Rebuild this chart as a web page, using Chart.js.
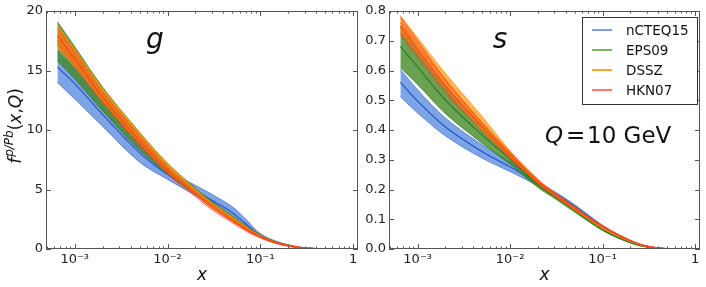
<!DOCTYPE html>
<html>
<head>
<meta charset="utf-8">
<script src="https://cdn.jsdelivr.net/npm/chart.js@4.4.1/dist/chart.umd.min.js"></script>
<style>
  html, body { margin: 0; padding: 0; background: #fff; }
  #wrap  { position: relative; width: 706px; height: 287px; }
  .panel { position: absolute; top: 0; }
  #p-g   { left: 0; }
  #p-s   { left: 362px; }
</style>
</head>
<body>
<div id="wrap">
  <div class="panel" id="p-g"><canvas id="chart-g" width="362" height="287"></canvas></div>
  <div class="panel" id="p-s"><canvas id="chart-s" width="344" height="287"></canvas></div>
</div>
<script>
// ── Data ──────────────────────────────────────────────────────────────────────
const xs = [6.5e-4, 1e-3, 2e-3, 5e-3, 1e-2, 2e-2, 3e-2, 5e-2, 7e-2, 0.1, 0.15, 0.25, 0.4, 0.7];

const xTicks      = [1e-3, 1e-2, 1e-1, 1];
const xTickLabels = ["10⁻³", "10⁻²", "10⁻¹", "1"];
const gTicks      = [0, 5, 10, 15, 20];
const sTicks      = [0, 0.1, 0.2, 0.3, 0.4, 0.5, 0.6, 0.7, 0.8];

const setNames = ["nCTEQ15", "EPS09", "DSSZ", "HKN07"];

// gluon
const gBlueLo    = [14.0, 12.6, 10.3, 7.3, 5.85, 4.5, 3.65, 2.6, 1.75, 1.0, 0.45, 0.12, 0.02, 0.0];
const gBlueHi    = [16.6, 15.2, 12.4, 8.95, 6.65, 5.35, 4.6, 3.55, 2.5, 1.3, 0.65, 0.2, 0.04, 0.0];
const gBlueMid   = [15.3, 13.9, 11.3, 8.1, 6.25, 4.9, 4.1, 3.05, 2.1, 1.15, 0.55, 0.16, 0.03, 0.0];
const gGreenLo   = [15.8, 14.3, 11.6, 8.3, 6.3, 4.6, 3.6, 2.45, 1.7, 1.02, 0.5, 0.15, 0.03, 0.0];
const gGreenHi   = [19.1, 17.0, 13.6, 9.8, 7.2, 5.1, 4.0, 2.8, 1.95, 1.2, 0.6, 0.19, 0.04, 0.0];
const gGreenMid  = [17.5, 15.7, 12.6, 9.0, 6.75, 4.85, 3.8, 2.62, 1.82, 1.1, 0.55, 0.17, 0.035, 0.0];
const gOrangeLo  = [17.0, 15.3, 12.4, 8.9, 6.5, 4.6, 3.5, 2.35, 1.62, 0.98, 0.48, 0.14, 0.03, 0.0];
const gOrangeHi  = [18.8, 16.8, 13.5, 9.8, 7.2, 5.05, 3.9, 2.7, 1.9, 1.15, 0.58, 0.18, 0.04, 0.0];
const gOrangeMid = [17.9, 16.0, 12.9, 9.35, 6.85, 4.8, 3.7, 2.52, 1.75, 1.06, 0.53, 0.16, 0.035, 0.0];
const gRedLo     = [17.2, 15.4, 12.3, 8.7, 6.3, 4.4, 3.3, 2.2, 1.5, 0.92, 0.45, 0.13, 0.025, 0.0];
const gRedHi     = [18.6, 16.6, 13.2, 9.5, 6.9, 4.8, 3.7, 2.5, 1.75, 1.08, 0.55, 0.17, 0.035, 0.0];
const gRedMid    = [17.9, 16.0, 12.75, 9.1, 6.6, 4.6, 3.5, 2.35, 1.62, 1.0, 0.5, 0.15, 0.03, 0.0];

// strange
const sBlueLo    = [0.512, 0.457, 0.38, 0.305, 0.26, 0.213, 0.185, 0.14, 0.107, 0.072, 0.042, 0.014, 0.003, 0.0];
const sBlueHi    = [0.604, 0.535, 0.44, 0.35, 0.293, 0.228, 0.194, 0.149, 0.115, 0.08, 0.048, 0.018, 0.004, 0.0];
const sBlueMid   = [0.56, 0.497, 0.41, 0.327, 0.276, 0.22, 0.189, 0.144, 0.111, 0.076, 0.045, 0.016, 0.0035, 0.0];
const sGreenLo   = [0.61, 0.553, 0.455, 0.355, 0.285, 0.207, 0.171, 0.124, 0.093, 0.062, 0.035, 0.011, 0.002, 0.0];
const sGreenHi   = [0.745, 0.67, 0.55, 0.415, 0.322, 0.226, 0.183, 0.133, 0.1, 0.068, 0.039, 0.013, 0.003, 0.0];
const sGreenMid  = [0.68, 0.612, 0.5, 0.383, 0.302, 0.216, 0.177, 0.128, 0.096, 0.065, 0.037, 0.012, 0.0025, 0.0];
const sOrangeLo  = [0.73, 0.66, 0.54, 0.40, 0.31, 0.22, 0.18, 0.131, 0.1, 0.069, 0.041, 0.014, 0.003, 0.0];
const sOrangeHi  = [0.785, 0.71, 0.59, 0.445, 0.33, 0.235, 0.19, 0.14, 0.107, 0.075, 0.045, 0.016, 0.004, 0.0];
const sOrangeMid = [0.76, 0.685, 0.565, 0.42, 0.32, 0.228, 0.185, 0.135, 0.103, 0.072, 0.043, 0.015, 0.0035, 0.0];
const sRedLo     = [0.72, 0.645, 0.525, 0.395, 0.305, 0.22, 0.18, 0.133, 0.103, 0.073, 0.044, 0.015, 0.003, 0.0];
const sRedHi     = [0.78, 0.70, 0.57, 0.425, 0.325, 0.232, 0.19, 0.142, 0.11, 0.079, 0.048, 0.017, 0.004, 0.0];
const sRedMid    = [0.75, 0.672, 0.548, 0.41, 0.315, 0.226, 0.185, 0.137, 0.106, 0.076, 0.046, 0.016, 0.0035, 0.0];

// ── Styles ────────────────────────────────────────────────────────────────────
const COLORS = [
  { fill: "rgba(45,110,215,0.62)",  edge: "rgba(40,90,200,0.7)",  line: "#1f4fcf", legend: "#2f5fd0" },
  { fill: "rgba(65,135,35,0.78)",   edge: "rgba(50,120,20,0.9)",  line: "#2f7a1a", legend: "#7db35c" },
  { fill: "rgba(255,155,20,0.72)",  edge: "rgba(255,140,0,0.85)", line: "#ff8c00", legend: "#ffa42e" },
  { fill: "rgba(255,70,30,0.38)",   edge: "rgba(255,60,20,0.8)",  line: "#ff4418", legend: "#ff7a5c" }
];

Chart.defaults.font.family = "'DejaVu Sans', sans-serif";
Chart.defaults.color       = "#222";

const pts = arr => xs.map((x, i) => ({ x, y: arr[i] }));

function band(lo, hi, mid, k) {
  const c = COLORS[k];
  const order = (4 - k) * 10;
  const base = { pointRadius: 0, tension: 0.35 };
  return [
    { ...base, data: pts(lo),  borderColor: c.edge, borderWidth: 0.8, fill: false, order },
    { ...base, data: pts(hi),  borderColor: c.edge, borderWidth: 0.8,
      backgroundColor: c.fill, fill: "-1", order },
    { ...base, data: pts(mid), borderColor: c.line, borderWidth: 1.1, fill: false, order: order - 1 }
  ];
}

// ── Decoration: frame, inward ticks, text ─────────────────────────────────────
function line(ctx, x1, y1, x2, y2) {
  ctx.beginPath(); ctx.moveTo(x1, y1); ctx.lineTo(x2, y2); ctx.stroke();
}

function drawRich(ctx, parts, x, y) {
  let cx = x;
  parts.forEach(p => {
    ctx.font = p.font;
    ctx.fillText(p.t, cx, y + (p.dy || 0));
    cx += ctx.measureText(p.t).width + (p.gap || 0);
  });
}

function richWidth(ctx, parts) {
  return parts.reduce((w, p) => {
    ctx.font = p.font;
    return w + ctx.measureText(p.t).width + (p.gap || 0);
  }, 0);
}

const decor = {
  id: "decor",
  afterDraw(chart) {
    const { ctx, chartArea: a, scales: { x, y } } = chart;
    const o = chart.options.plugins.decor;
    ctx.save();
    ctx.strokeStyle = "#555";
    ctx.lineWidth = 1;

    // x ticks, major + minor, bottom and top
    for (let e = -4; e <= 0; e++) {
      for (let m = 1; m < 10; m++) {
        const v = m * Math.pow(10, e);
        if (v < x.min || v > x.max) continue;
        const px = Math.round(x.getPixelForValue(v)) + 0.5;
        const len = m === 1 ? 5 : 2.5;
        line(ctx, px, a.bottom, px, a.bottom - len);
        line(ctx, px, a.top, px, a.top + len);
      }
    }
    // y ticks, left and right
    y.ticks.forEach(t => {
      const py = Math.round(y.getPixelForValue(t.value)) + 0.5;
      line(ctx, a.left, py, a.left + 5, py);
      line(ctx, a.right, py, a.right - 5, py);
    });
    ctx.strokeRect(a.left + 0.5, a.top + 0.5, a.right - a.left - 1, a.bottom - a.top - 1);

    ctx.fillStyle = "#111";
    ctx.textBaseline = "alphabetic";

    // panel letter
    ctx.font = "italic 28px 'DejaVu Sans'";
    ctx.textAlign = "center";
    ctx.fillText(o.letter, o.letterX, 48);

    // x axis title
    ctx.font = "italic 17px 'DejaVu Sans'";
    ctx.fillText("x", (a.left + a.right) / 2, 280);
    ctx.textAlign = "left";

    if (o.yTitle) {
      const parts = [
        { t: "f", font: "italic 17px 'DejaVu Sans'", gap: 1 },
        { t: "p/Pb", font: "italic 12px 'DejaVu Sans'", dy: -8 },
        { t: "(", font: "17px 'DejaVu Sans'" },
        { t: "x", font: "italic 17px 'DejaVu Sans'" },
        { t: ",", font: "17px 'DejaVu Sans'" },
        { t: "Q", font: "italic 17px 'DejaVu Sans'" },
        { t: ")", font: "17px 'DejaVu Sans'" }
      ];
      const w = richWidth(ctx, parts);
      ctx.save();
      ctx.translate(21, 126);
      ctx.rotate(-Math.PI / 2);
      drawRich(ctx, parts, -w / 2, 0);
      ctx.restore();
    }

    if (o.legend) {
      // Q label (canvas starts at page x 362)
      ctx.font = "italic 23px 'DejaVu Sans'";
      ctx.fillText("Q", 183, 143);
      ctx.font = "23px 'DejaVu Sans'";
      ctx.fillText("=", 204, 143);
      ctx.fillText("10 GeV", 225, 143);

      // legend box
      const lx = 220, ly = 17, lw = 115, lh = 87;
      ctx.fillStyle = "#fff";
      ctx.fillRect(lx, ly, lw, lh);
      ctx.strokeStyle = "#333";
      ctx.strokeRect(lx + 0.5, ly + 0.5, lw, lh);
      setNames.forEach((name, i) => {
        const cy = ly + 13 + i * 20;
        ctx.strokeStyle = COLORS[i].legend;
        ctx.lineWidth = i === 0 ? 1.2 : 2;
        line(ctx, lx + 10, cy, lx + 30, cy);
        ctx.fillStyle = "#111";
        ctx.font = "13.5px 'DejaVu Sans'";
        ctx.fillText(name, lx + 44, cy + 5);
      });
    }
    ctx.restore();
  }
};

// ── Charts ────────────────────────────────────────────────────────────────────
function makeChart(id, sets, yMin, yMax, yTickVals, yFmt, yWidth, padRight, plugOpts) {
  const datasets = [];
  sets.forEach((s, k) => datasets.push(...band(s[0], s[1], s[2], k)));

  return new Chart(document.getElementById(id), {
    type: "line",
    data: { datasets },
    plugins: [decor],
    options: {
      responsive: false,
      animation:  false,
      layout: { padding: { top: 11, right: padRight, left: 0, bottom: 0 } },
      plugins: {
        legend:  { display: false },
        tooltip: { enabled: false },
        decor:   plugOpts
      },
      scales: {
        x: {
          type: "logarithmic",
          min:  4.9e-4,
          max:  1.13,
          grid:   { display: false, drawTicks: false },
          border: { display: false },
          afterBuildTicks: sc => { sc.ticks = xTicks.map(v => ({ value: v })); },
          afterFit: sc => { sc.height = 38; },
          ticks: {
            autoSkip: false, maxRotation: 0, padding: 3,
            font: { size: 13 }, color: "#222",
            callback: v => xTickLabels[xTicks.indexOf(v)] ?? ""
          }
        },
        y: {
          min: yMin,
          max: yMax,
          grid:   { display: false, drawTicks: false },
          border: { display: false },
          afterBuildTicks: sc => { sc.ticks = yTickVals.map(v => ({ value: v })); },
          afterFit: sc => { sc.width = yWidth; },
          ticks: {
            padding: 3, font: { size: 13 }, color: "#222",
            callback: yFmt
          }
        }
      }
    }
  });
}

makeChart("chart-g",
  [[gBlueLo, gBlueHi, gBlueMid], [gGreenLo, gGreenHi, gGreenMid],
   [gOrangeLo, gOrangeHi, gOrangeMid], [gRedLo, gRedHi, gRedMid]],
  0, 20, gTicks, v => String(v), 46, 4,
  { letter: "g", letterX: 155, yTitle: true, legend: false });

makeChart("chart-s",
  [[sBlueLo, sBlueHi, sBlueMid], [sGreenLo, sGreenHi, sGreenMid],
   [sOrangeLo, sOrangeHi, sOrangeMid], [sRedLo, sRedHi, sRedMid]],
  0, 0.8, sTicks, v => v.toFixed(1), 27, 6,
  { letter: "s", letterX: 138, yTitle: false, legend: true });
</script>
</body>
</html>
